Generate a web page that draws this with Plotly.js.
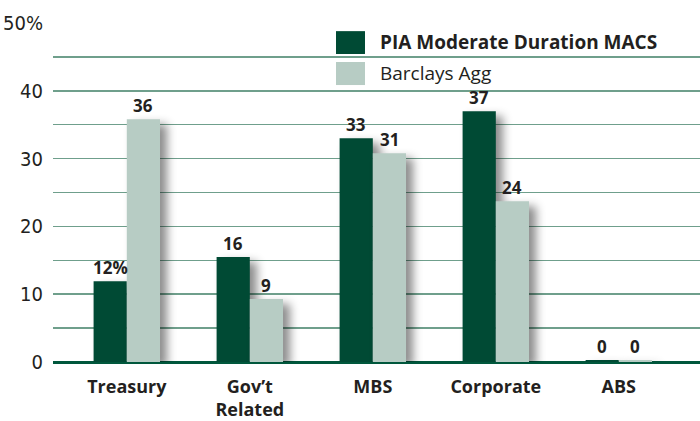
<!DOCTYPE html>
<html>
<head>
<meta charset="utf-8">
<script src="https://cdn.plot.ly/plotly-3.0.1.min.js"></script>
<style>
  html, body { margin: 0; padding: 0; background: #fff; }
  #chart { width: 700px; height: 421px; }
  .barlayer .point path { filter: drop-shadow(7px 5px 5px rgba(0,0,0,0.45)); }
</style>
</head>
<body>
<div id="chart"></div>
<script>
// ---- data ----
const categories = ["Treasury", "Gov’t<br>Related", "MBS", "Corporate", "ABS"];
const seriesNames = ["PIA Moderate Duration MACS", "Barclays Agg"];
const piaValues = [11.9, 15.5, 33.0, 37.0, 0.3];
const aggValues = [35.8, 9.3, 30.8, 23.7, 0.3];
const piaLabels = ["12%", "16", "33", "37", "0"];
const aggLabels = ["36", "9", "31", "24", "0"];
const yTickVals = [0, 10, 20, 30, 40, 50];
const yTickText = ["0", "10", "20", "30", "40", "50%"];

// ---- styles ----
const darkGreen = "#004a34";
const lightGreen = "#b7ccc4";
const gridColor = "#6f9f8c";
const textColor = "#231f20";
const boldFont = "'Open Sans', 'Noto Sans', sans-serif";
const narrowFont = "'Liberation Sans Narrow', 'DejaVu Sans Condensed', 'Liberation Sans', sans-serif";

const traces = [
  { type: "bar", name: seriesNames[0], x: categories, y: piaValues,
    marker: { color: darkGreen }, hoverinfo: "none" },
  { type: "bar", name: seriesNames[1], x: categories, y: aggValues,
    marker: { color: lightGreen }, hoverinfo: "none" }
];

const annotations = [];
function addLabels(vals, labels, shift) {
  vals.forEach((v, i) => {
    annotations.push({
      x: categories[i], y: v, xref: "x", yref: "y",
      text: "<b>" + labels[i] + "</b>", showarrow: false,
      xanchor: "center", yanchor: "bottom", xshift: shift, yshift: 0,
      font: { family: boldFont, size: 17, color: textColor }
    });
  });
}
addLabels(piaValues, piaLabels, -16.5);
addLabels(aggValues, aggLabels, 16.5);

// legend (drawn manually for large swatches)
const legendRows = [
  { name: seriesNames[0], color: darkGreen, y0: 0.9086, y1: 0.976, bold: true },
  { name: seriesNames[1], color: lightGreen, y0: 0.817, y1: 0.885, bold: false }
];
const shapes = [];
legendRows.forEach(r => {
  shapes.push({ type: "rect", xref: "paper", yref: "paper",
    x0: 0.4374, x1: 0.4822, y0: r.y0, y1: r.y1,
    fillcolor: r.color, line: { width: 0 } });
  annotations.push({ xref: "paper", yref: "paper", x: 0.5023, y: (r.y0 + r.y1) / 2,
    xanchor: "left", yanchor: "middle", showarrow: false, yshift: 1,
    text: r.bold ? "<b>" + r.name + "</b>" : r.name,
    font: { family: boldFont, size: 19, color: textColor } });
});

const layout = {
  width: 700, height: 421,
  margin: { l: 53, r: 0, t: 23, b: 59, pad: 0 },
  paper_bgcolor: "#ffffff", plot_bgcolor: "#ffffff",
  showlegend: false,
  barmode: "group", bargap: 0.46, bargroupgap: 0,
  xaxis: {
    range: [-0.6, 4.66], showgrid: false, zeroline: false, showline: false,
    ticks: "", tickfont: { family: boldFont, size: 18, color: textColor, weight: "bold" },
    ticklabelstandoff: 12
  },
  yaxis: {
    range: [0, 50], tickvals: yTickVals, ticktext: yTickText,
    showgrid: true, gridcolor: gridColor, gridwidth: 1.5,
    minor: { dtick: 5, showgrid: true, gridcolor: gridColor, gridwidth: 1.5 },
    zeroline: true, zerolinecolor: "#00573c", zerolinewidth: 3,
    ticks: "", ticklabelstandoff: 9,
    tickfont: { family: narrowFont, size: 20, color: textColor }
  },
  shapes: shapes,
  annotations: annotations
};

Plotly.newPlot("chart", traces, layout, { staticPlot: true, displayModeBar: false });
</script>
</body>
</html>
